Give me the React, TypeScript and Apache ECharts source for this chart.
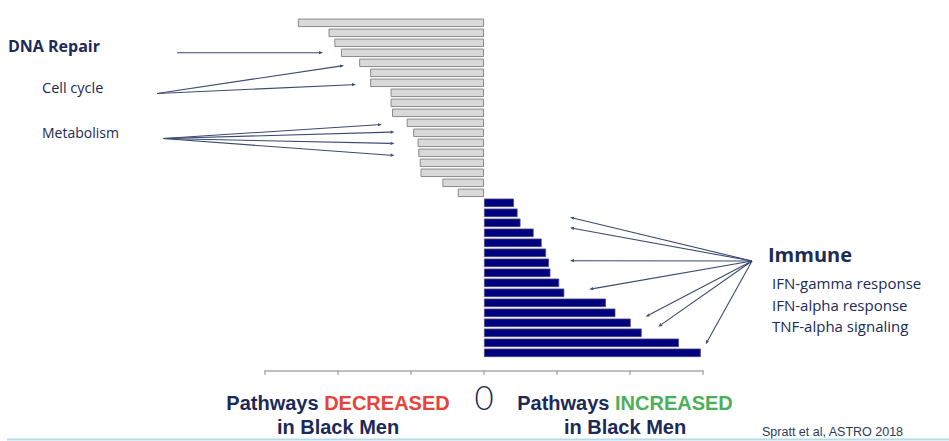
import React, { useEffect, useRef } from "react";
import * as echarts from "echarts";

// ---- data ----
const decreasedValues = [2.55, 2.13, 2.05, 1.96, 1.71, 1.56, 1.56, 1.28, 1.28, 1.26, 1.06, 0.97, 0.91, 0.9, 0.88, 0.87, 0.57, 0.36];
const increasedValues = [0.41, 0.46, 0.5, 0.68, 0.79, 0.85, 0.89, 0.91, 1.03, 1.1, 1.67, 1.8, 2.01, 2.16, 2.67, 2.97];
const decreasedCategories = decreasedValues.map((_, i) => `Decreased pathway ${i + 1}`);
const increasedCategories = increasedValues.map((_, i) => `Increased pathway ${i + 1}`);
const categories = [...decreasedCategories, ...increasedCategories];
const xTicks = [-3, -2, -1, 0, 1, 2, 3];

const leftLabels = [
  { text: "DNA Repair", bold: true },
  { text: "Cell cycle", bold: false },
  { text: "Metabolism", bold: false },
];
const immuneTitle = "Immune";
const immuneItems = ["IFN-gamma response", "IFN-alpha response", "TNF-alpha signaling"];
const sourceText = "Spratt et al, ASTRO 2018";

// ---- annotation layout (pixels) ----
const NAVY = "#1b2a56";
const LINE = "#3b4a70";
const annotationArrows: { from: [number, number]; to: [number, number] }[] = [
  { from: [177, 52.7], to: [323, 52.7] },
  { from: [157, 93.5], to: [344, 65.5] },
  { from: [157, 93.5], to: [356, 84.5] },
  { from: [163, 138.5], to: [382, 124.5] },
  { from: [163, 138.5], to: [394.5, 132] },
  { from: [163, 138.5], to: [394.5, 143.5] },
  { from: [163, 138.5], to: [394.5, 155.5] },
  { from: [752, 261], to: [570, 217.3] },
  { from: [752, 261], to: [570, 227.7] },
  { from: [752, 261], to: [570, 260.7] },
  { from: [752, 261], to: [589.3, 289.3] },
  { from: [752, 261], to: [645.7, 316.7] },
  { from: [752, 261], to: [658.3, 326.7] },
  { from: [752, 261], to: [705.7, 344.3] },
];

function arrowElements() {
  const els: any[] = [];
  annotationArrows.forEach(({ from, to }) => {
    const dx = to[0] - from[0];
    const dy = to[1] - from[1];
    const len = Math.hypot(dx, dy);
    const ux = dx / len;
    const uy = dy / len;
    const hl = 4;
    const hw = 1.6;
    const bx = to[0] - ux * hl;
    const by = to[1] - uy * hl;
    els.push({
      type: "line",
      silent: true,
      shape: { x1: from[0], y1: from[1], x2: bx, y2: by },
      style: { stroke: LINE, lineWidth: 1.1 },
    });
    els.push({
      type: "polygon",
      silent: true,
      shape: {
        points: [
          [to[0], to[1]],
          [bx - uy * hw, by + ux * hw],
          [bx + uy * hw, by - ux * hw],
        ],
      },
      style: { fill: LINE },
    });
  });
  return els;
}

export default function App() {
  const ref = useRef<HTMLDivElement>(null);

  useEffect(() => {
    if (!ref.current) return;
    const chart = echarts.init(ref.current, undefined, { renderer: "svg" });
    const nD = decreasedValues.length;
    const decData = categories.map((_, i) => (i < nD ? -decreasedValues[i] : null));
    const incData = categories.map((_, i) => (i >= nD ? increasedValues[i - nD] : null));

    const F = "'Open Sans', Lato, sans-serif";
    const BIG = "bold 20px 'Liberation Sans', Arial, sans-serif";

    const bottomBlock = (cx: number, word: string, color: string) => [
      {
        type: "text",
        x: cx,
        y: 403,
        style: {
          text: `{a|Pathways }{c|${word}}`,
          align: "center",
          verticalAlign: "middle",
          rich: {
            a: { font: BIG, fill: NAVY, lineHeight: 21 },
            c: { font: BIG, fill: color, lineHeight: 21 },
          },
        },
      },
      {
        type: "text",
        x: cx,
        y: 426.5,
        style: { text: "in Black Men", font: BIG, fill: NAVY, align: "center", verticalAlign: "middle", lineHeight: 21 },
      },
    ];

    const graphics: any[] = [
      ...arrowElements(),
      {
        type: "text",
        x: 8,
        y: 46,
        style: { text: leftLabels[0].text, font: `bold 16px ${F}`, fill: NAVY, verticalAlign: "middle" },
      },
      {
        type: "text",
        x: 42,
        y: 87,
        style: { text: leftLabels[1].text, font: `14.5px ${F}`, fill: NAVY, verticalAlign: "middle" },
      },
      {
        type: "text",
        x: 42,
        y: 132,
        style: { text: leftLabels[2].text, font: `14px ${F}`, fill: NAVY, verticalAlign: "middle" },
      },
      {
        type: "text",
        x: 768,
        y: 254,
        style: { text: immuneTitle, font: `bold 20px ${F}`, fill: NAVY, verticalAlign: "middle" },
      },
      ...immuneItems.map((t, i) => ({
        type: "text",
        x: 772,
        y: 283 + i * 21.5,
        style: { text: t, font: `15px ${F}`, fill: NAVY, verticalAlign: "middle" },
      })),
      ...bottomBlock(338, "DECREASED", "#e8433a"),
      ...bottomBlock(625, "INCREASED", "#4caf5a"),
      {
        type: "text",
        x: 762,
        y: 432,
        style: {
          text: sourceText,
          font: "12.5px 'Liberation Sans', Arial, sans-serif",
          fill: "#2a3b5c",
          verticalAlign: "middle",
        },
      },
      {
        type: "line",
        silent: true,
        shape: { x1: 7, y1: 439.5, x2: 949, y2: 439.5 },
        style: { stroke: "#b4dde9", lineWidth: 2 },
      },
    ];

    chart.setOption({
      animation: false,
      backgroundColor: "#ffffff",
      grid: { left: 265, top: 17.8, width: 438, height: 340, containLabel: false },
      xAxis: {
        type: "value",
        min: xTicks[0],
        max: xTicks[xTicks.length - 1],
        interval: 1,
        offset: 13,
        axisLine: { show: true, lineStyle: { color: "#aaaaaa", width: 1.5 } },
        axisTick: { show: true, length: 4, lineStyle: { color: "#aaaaaa", width: 1.5 } },
        splitLine: { show: false },
        axisLabel: {
          show: true,
          margin: 10,
          fontSize: 33,
          fontFamily: "Lato, 'Open Sans', sans-serif",
          fontWeight: 300,
          color: NAVY,
          formatter: (v: number) => (v === 0 ? "0" : ""),
        },
      },
      yAxis: {
        type: "category",
        data: categories,
        inverse: true,
        show: false,
      },
      series: [
        {
          name: "Pathways decreased",
          type: "bar",
          data: decData,
          barWidth: 8.5,
          barGap: "-100%",
          itemStyle: { color: "#d9d9d9", borderColor: "#8a8a8a", borderWidth: 1 },
        },
        {
          name: "Pathways increased",
          type: "bar",
          data: incData,
          barWidth: 8.5,
          barGap: "-100%",
          itemStyle: { color: "#00007f", borderColor: "#4a4a80", borderWidth: 0.8 },
        },
      ],
      graphic: graphics,
    });
    return () => chart.dispose();
  }, []);

  return (
    <div
      ref={ref}
      style={{ position: "fixed", left: 0, top: 0, width: 949, height: 441, background: "#fff" }}
    />
  );
}
